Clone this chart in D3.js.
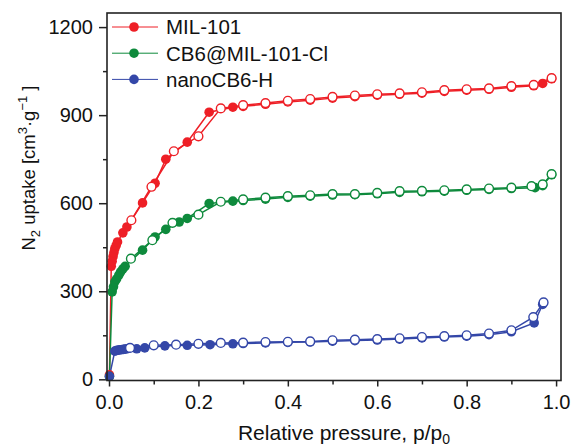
<!DOCTYPE html>
<html>
<head>
<meta charset="utf-8">
<script src="https://cdn.jsdelivr.net/npm/d3@7"></script>
<style>
  html, body { margin: 0; padding: 0; background: #fff; }
  svg { display: block; font-family: "Liberation Sans", Arial, sans-serif; }
</style>
</head>
<body>
<div id="chart"></div>
<script>
// MIL-101
const milAdsP = [0.001, 0.005, 0.007, 0.009, 0.011, 0.013, 0.016, 0.019, 0.031, 0.04, 0.075, 0.103, 0.127, 0.175, 0.224, 0.277,
  0.3, 0.35, 0.4, 0.45, 0.5, 0.55, 0.6, 0.65, 0.7, 0.75, 0.8, 0.85, 0.9, 0.95, 0.97, 0.99];
const milAdsV = [15, 385, 402, 418, 432, 445, 456, 468, 499, 519, 601, 668, 750, 808, 910, 927,
  930, 937, 945, 951, 958, 963, 968, 971, 975, 981, 985, 988, 995, 1000, 1008, 1024];
const milDesP = [0.99, 0.95, 0.9, 0.85, 0.8, 0.75, 0.7, 0.65, 0.6, 0.55, 0.5, 0.45, 0.4, 0.35, 0.3, 0.25, 0.2, 0.145, 0.095, 0.05];
const milDesV = [1026, 1003, 999, 991, 988, 985, 978, 974, 971, 967, 962, 955, 949, 941, 934, 923, 828, 777, 656, 542];

// CB6@MIL-101-Cl
const cbAdsP = [0.001, 0.007, 0.01, 0.013, 0.017, 0.022, 0.026, 0.031, 0.036, 0.075, 0.103, 0.127, 0.157, 0.175, 0.224, 0.277,
  0.3, 0.35, 0.4, 0.45, 0.5, 0.55, 0.6, 0.65, 0.7, 0.75, 0.8, 0.85, 0.9, 0.953, 0.97, 0.99];
const cbAdsV = [10, 298, 315, 332, 342, 355, 366, 376, 385, 440, 485, 511, 536, 548, 599, 607,
  609, 614, 620, 624, 628, 629, 632, 637, 639, 641, 644, 647, 650, 653, 660, 697];
const cbDesP = [0.99, 0.97, 0.945, 0.9, 0.85, 0.8, 0.75, 0.7, 0.65, 0.6, 0.55, 0.5, 0.45, 0.4, 0.35, 0.3, 0.25, 0.2, 0.142, 0.097, 0.049];
const cbDesV = [699, 664, 658, 653, 650, 647, 644, 642, 641, 635, 631, 631, 627, 624, 619, 613, 605, 561, 533, 474, 411];

// nanoCB6-H
const nanoAdsP = [0.001, 0.013, 0.016, 0.019, 0.022, 0.025, 0.028, 0.032, 0.036, 0.04, 0.062, 0.08, 0.125, 0.175, 0.226, 0.277,
  0.3, 0.35, 0.4, 0.45, 0.5, 0.55, 0.6, 0.65, 0.7, 0.75, 0.8, 0.85, 0.9, 0.951, 0.97];
const nanoAdsV = [10, 96, 98, 99, 100, 101, 101, 102, 103, 104, 104, 107, 114, 116, 118, 121,
  122, 124, 126, 127, 130, 132, 134, 137, 141, 144, 147, 152, 162, 192, 255];
const nanoDesP = [0.972, 0.949, 0.9, 0.85, 0.8, 0.75, 0.7, 0.65, 0.6, 0.55, 0.5, 0.45, 0.4, 0.35, 0.3, 0.25, 0.2, 0.15, 0.1, 0.047];
const nanoDesV = [262, 212, 167, 156, 150, 147, 144, 140, 137, 135, 133, 129, 128, 127, 125, 124, 121, 118, 116, 107];

const seriesNames = ["MIL-101", "CB6@MIL-101-Cl", "nanoCB6-H"];
const xTicks = [0, 0.2, 0.4, 0.6, 0.8, 1.0];
const xMinor = [0.1, 0.3, 0.5, 0.7, 0.9];
const yTicks = [0, 300, 600, 900, 1200];
const yMinor = [150, 450, 750, 1050];

const colors = ["#ee1f26", "#0e8a3c", "#3447a8"];

const series = [
  { name: seriesNames[0], color: colors[0], ads: milAdsP.map((p, i) => [p, milAdsV[i]]), des: milDesP.map((p, i) => [p, milDesV[i]]) },
  { name: seriesNames[1], color: colors[1], ads: cbAdsP.map((p, i) => [p, cbAdsV[i]]), des: cbDesP.map((p, i) => [p, cbDesV[i]]) },
  { name: seriesNames[2], color: colors[2], ads: nanoAdsP.map((p, i) => [p, nanoAdsV[i]]), des: nanoDesP.map((p, i) => [p, nanoDesV[i]]) }
];

const width = 572, height = 448;
const plotLeft = 107, plotRight = 561, plotTop = 13, plotBottom = 380.5;

const svg = d3.select("#chart").append("svg")
  .attr("width", width)
  .attr("height", height);

const x = d3.scaleLinear().domain([-0.0045, 1.011]).range([plotLeft, plotRight]);
const y = d3.scaleLinear().domain([-4, 1248]).range([plotBottom, plotTop]);

const line = d3.line().x(d => x(d[0])).y(d => y(d[1]));

// axes
const xAxis = svg.append("g")
  .attr("transform", `translate(0,${plotBottom})`)
  .call(d3.axisBottom(x).tickValues(xTicks).tickFormat(d3.format(".1f")).tickSize(6).tickPadding(8));
const xAxisMinor = svg.append("g")
  .attr("transform", `translate(0,${plotBottom})`)
  .call(d3.axisBottom(x).tickValues(xMinor).tickFormat("").tickSize(4));
const yAxis = svg.append("g")
  .attr("transform", `translate(${plotLeft},0)`)
  .call(d3.axisLeft(y).tickValues(yTicks).tickFormat(d3.format("d")).tickSize(8).tickPadding(6));
const yAxisMinor = svg.append("g")
  .attr("transform", `translate(${plotLeft},0)`)
  .call(d3.axisLeft(y).tickValues(yMinor).tickFormat("").tickSize(4));

[xAxis, xAxisMinor, yAxis, yAxisMinor].forEach(g => {
  g.select(".domain").remove();
  g.selectAll("line").attr("stroke", "#222").attr("stroke-width", 1.5);
  g.selectAll("text").attr("fill", "#111").attr("font-size", "20px")
    .attr("font-family", "'Liberation Sans', Arial, sans-serif");
});

// data
const plot = svg.append("g");
series.forEach(s => {
  plot.append("path").datum(s.ads)
    .attr("fill", "none").attr("stroke", s.color).attr("stroke-width", 1.5)
    .attr("d", line);
  plot.append("path").datum(s.des)
    .attr("fill", "none").attr("stroke", s.color).attr("stroke-width", 1.5)
    .attr("d", line);
});
series.forEach(s => {
  plot.append("g").selectAll("circle").data(s.ads).join("circle")
    .attr("cx", d => x(d[0])).attr("cy", d => y(d[1])).attr("r", 4.8)
    .attr("fill", s.color);
  plot.append("g").selectAll("circle").data(s.des).join("circle")
    .attr("cx", d => x(d[0])).attr("cy", d => y(d[1])).attr("r", 4.4)
    .attr("fill", "#fff").attr("stroke", s.color).attr("stroke-width", 1.4);
});

// frame
svg.append("rect")
  .attr("x", plotLeft).attr("y", plotTop)
  .attr("width", plotRight - plotLeft).attr("height", plotBottom - plotTop)
  .attr("fill", "none").attr("stroke", "#222").attr("stroke-width", 1.6);

// legend
const legend = svg.append("g");
series.forEach((s, i) => {
  const ly = 27 + i * 26.2;
  legend.append("line")
    .attr("x1", 112).attr("x2", 158).attr("y1", ly).attr("y2", ly)
    .attr("stroke", s.color).attr("stroke-width", 1);
  legend.append("circle")
    .attr("cx", 134).attr("cy", ly).attr("r", 4.8).attr("fill", s.color);
  legend.append("text")
    .attr("x", 166).attr("y", ly + 7.4)
    .attr("font-size", "20.5px").attr("fill", "#111")
    .text(s.name);
});

// axis titles
const xt = svg.append("text")
  .attr("x", 344).attr("y", 440)
  .attr("text-anchor", "middle").attr("font-size", "21px").attr("fill", "#111");
xt.append("tspan").text("Relative pressure, p/p");
xt.append("tspan").attr("font-size", "14px").attr("dy", 4).text("0");

const yt = svg.append("text")
  .attr("transform", "translate(35,168) rotate(-90)")
  .attr("text-anchor", "middle").attr("font-size", "18.5px").attr("fill", "#111");
yt.append("tspan").text("N");
yt.append("tspan").attr("font-size", "13px").attr("dy", 5).text("2");
yt.append("tspan").attr("dy", -5).text(" uptake [cm");
yt.append("tspan").attr("font-size", "13px").attr("dy", -8).text("3");
yt.append("tspan").attr("dy", 8).text("·g");
yt.append("tspan").attr("font-size", "13px").attr("dy", -8).text("−1");
yt.append("tspan").attr("dy", 8).text(" ]");
</script>
</body>
</html>
